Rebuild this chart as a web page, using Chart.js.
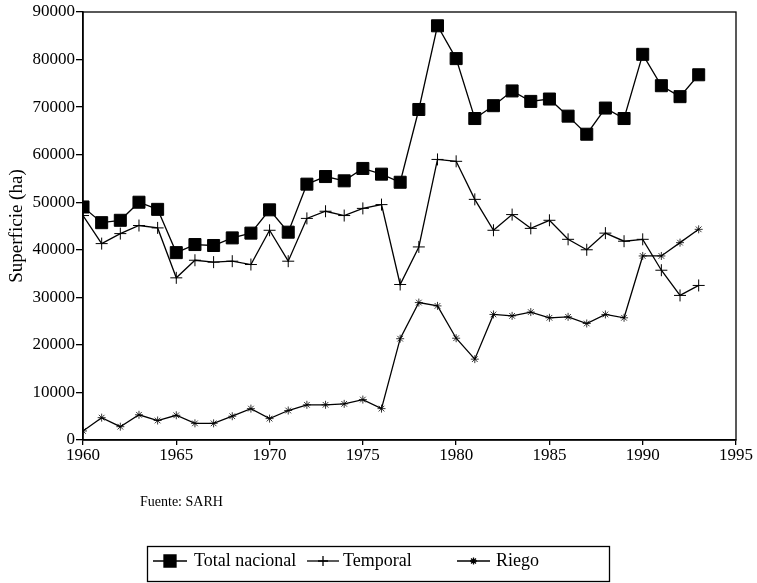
<!DOCTYPE HTML>
<html>
<head>
  <script src="https://cdn.jsdelivr.net/npm/chart.js"></script>
  <style>
    body { margin: 0; background: #fff; }
    #wrap { width: 757px; height: 583px; }
  </style>
</head>
<body>
  <div id="wrap"><canvas id="superficieChart" width="757" height="583"></canvas></div>

  <script>
    // Años 1960 - 1993
    var years = [1960, 1961, 1962, 1963, 1964, 1965, 1966, 1967, 1968, 1969,
                 1970, 1971, 1972, 1973, 1974, 1975, 1976, 1977, 1978, 1979,
                 1980, 1981, 1982, 1983, 1984, 1985, 1986, 1987, 1988, 1989,
                 1990, 1991, 1992, 1993];

    // Superficie (ha)
    var totalNacional = [49000, 45700, 46200, 50000, 48500, 39400, 41100, 40900, 42500, 43500,
                         48400, 43700, 53800, 55400, 54500, 57100, 55900, 54200, 69500, 87100,
                         80200, 67600, 70300, 73400, 71200, 71700, 68100, 64300, 69800, 67600,
                         81100, 74500, 72200, 76800];
    var temporal = [47200, 41300, 43400, 45100, 44600, 34100, 37800, 37400, 37600, 36900,
                    44100, 37600, 46600, 48100, 47200, 48700, 49500, 32700, 40600, 59000,
                    58600, 50600, 44100, 47400, 44500, 46200, 42200, 40000, 43500, 41800,
                    42200, 35700, 30400, 32500];
    var riego = [1900, 4700, 2800, 5300, 4100, 5200, 3500, 3500, 5000, 6600,
                 4500, 6200, 7400, 7400, 7600, 8500, 6600, 21300, 28900, 28200,
                 21400, 17000, 26400, 26100, 26900, 25700, 25900, 24500, 26400, 25700,
                 38700, 38700, 41500, 44300];

    var yTicks = [0, 10000, 20000, 30000, 40000, 50000, 60000, 70000, 80000, 90000];
    var xTicks = [1960, 1965, 1970, 1975, 1980, 1985, 1990, 1995];

    var serif = "'Liberation Serif', 'Times New Roman', serif";

    function toPoints(vals) {
      return years.map(function (y, i) { return { x: y, y: vals[i] }; });
    }

    var seriesStyle = [
      { label: 'Total nacional', pointStyle: 'rect', radius: 8.5, bw: 1 },
      { label: 'Temporal', pointStyle: 'cross', radius: 6, bw: 1 },
      { label: 'Riego', pointStyle: 'star', radius: 4, bw: 0.8 }
    ];

    // marco, fuente y leyenda
    var extras = {
      id: 'extras',
      afterDraw: function (chart) {
        var ctx = chart.ctx;
        var a = chart.chartArea;
        ctx.save();
        ctx.strokeStyle = '#000';
        ctx.lineWidth = 1.3;
        ctx.strokeRect(a.left, a.top, a.right - a.left, a.bottom - a.top);

        ctx.fillStyle = '#000';
        ctx.font = '14px ' + serif;
        ctx.textBaseline = 'middle';
        ctx.textAlign = 'left';
        ctx.fillText('Fuente: SARH', 140, 502);

        // leyenda
        ctx.lineWidth = 1.3;
        ctx.strokeRect(147.5, 546.5, 462, 35);
        var cy = 561;
        var items = [
          { x0: 153, x1: 187, text: 'Total nacional', tx: 194 },
          { x0: 307, x1: 339, text: 'Temporal', tx: 343 },
          { x0: 457, x1: 490, text: 'Riego', tx: 496 }
        ];
        ctx.font = '18px ' + serif;
        items.forEach(function (it, i) {
          ctx.lineWidth = 1.3;
          ctx.beginPath();
          ctx.moveTo(it.x0, cy);
          ctx.lineTo(it.x1, cy);
          ctx.stroke();
          var st = seriesStyle[i];
          Chart.helpers.drawPoint(ctx, {
            pointStyle: st.pointStyle,
            radius: i === 0 ? 8.5 : (i === 1 ? 5 : 3.5),
            rotation: 0,
            borderWidth: st.bw
          }, (it.x0 + it.x1) / 2, cy);
          if (i === 0) ctx.fill();
          ctx.fillText(it.text, it.tx, cy);
        });
        ctx.restore();
      }
    };

    var ctx = document.getElementById('superficieChart').getContext('2d');
    var myChart = new Chart(ctx, {
      type: 'line',
      data: {
        datasets: [totalNacional, temporal, riego].map(function (vals, i) {
          var st = seriesStyle[i];
          return {
            label: st.label,
            data: toPoints(vals),
            borderColor: '#000',
            borderWidth: 1.3,
            backgroundColor: '#000',
            pointStyle: st.pointStyle,
            pointRadius: st.radius,
            pointHoverRadius: st.radius,
            pointBorderWidth: st.bw,
            pointBackgroundColor: '#000',
            pointBorderColor: '#000',
            tension: 0,
            fill: false
          };
        })
      },
      options: {
        responsive: false,
        animation: false,
        layout: { padding: { top: 12, right: 21, bottom: 0, left: 0 } },
        plugins: {
          legend: { display: false },
          tooltip: { enabled: false }
        },
        scales: {
          x: {
            type: 'linear',
            min: 1960,
            max: 1995,
            afterBuildTicks: function (scale) {
              scale.ticks = xTicks.map(function (v) { return { value: v }; });
            },
            afterFit: function (scale) { scale.height = 143; },
            grid: { display: true, drawOnChartArea: false, drawTicks: true, tickLength: 5, color: '#000', lineWidth: 1.3 },
            border: { display: true, color: '#000', width: 1.5 },
            ticks: {
              color: '#000',
              font: { family: serif, size: 17 },
              padding: 0,
              maxRotation: 0,
              callback: function (v) { return String(v); }
            }
          },
          y: {
            min: 0,
            max: 90000,
            afterBuildTicks: function (scale) {
              scale.ticks = yTicks.map(function (v) { return { value: v }; });
            },
            afterFit: function (scale) { scale.width = 83; },
            grid: { display: true, drawOnChartArea: false, drawTicks: true, tickLength: 7, color: '#000', lineWidth: 1.3 },
            border: { display: true, color: '#000', width: 1.5 },
            title: {
              display: true,
              text: 'Superficie (ha)',
              color: '#000',
              font: { family: serif, size: 19 },
              padding: { top: 6, bottom: 0 }
            },
            ticks: {
              color: '#000',
              font: { family: serif, size: 17 },
              padding: 1,
              callback: function (v) { return String(v); }
            }
          }
        }
      },
      plugins: [extras]
    });
  </script>
</body>
</html>
